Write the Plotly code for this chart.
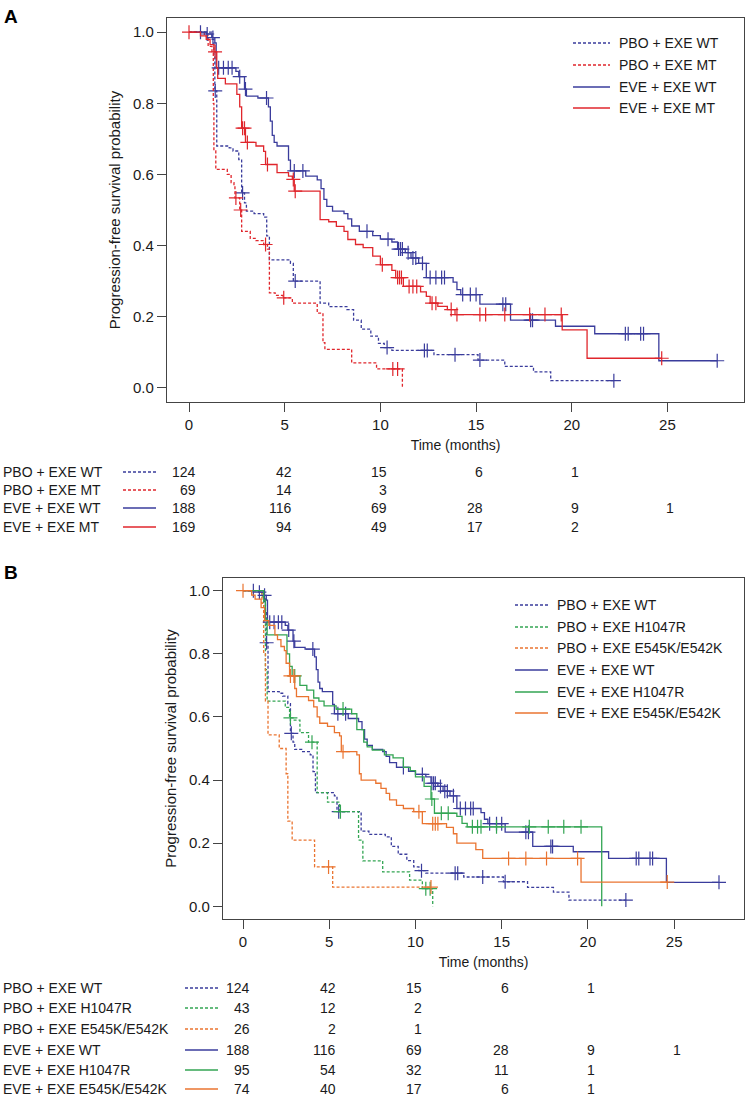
import numpy as np
import plotly.graph_objects as go

W, H = 747, 1099

# ---------------- data (months, survival) ----------------
# Panel A / shared
pbo_wt_t = [1.2, 1.3, 1.35, 1.45, 2.1, 2.3, 2.6, 2.75, 2.9, 3.0, 3.4, 3.9, 4.06, 4.2, 5.3, 5.45, 6.85, 7.3, 8.25, 8.6, 9.0, 9.5, 9.9, 10.2, 10.6, 12.8, 15.1, 16.5, 18.0, 18.9]
pbo_wt_s = [0.98, 0.93, 0.835, 0.68, 0.675, 0.666, 0.642, 0.548, 0.52, 0.497, 0.49, 0.48, 0.427, 0.36, 0.35, 0.30, 0.238, 0.228, 0.22, 0.19, 0.165, 0.145, 0.125, 0.113, 0.105, 0.093, 0.078, 0.06, 0.045, 0.02]
pbo_wt_c = [1.37, 2.8, 5.55, 10.35, 12.3, 12.45, 13.9, 15.2, 22.2]

pbo_mt_t = [0.8, 1.0, 1.2, 1.27, 1.3, 1.4, 2.0, 2.2, 2.35, 2.4, 2.65, 2.75, 3.2, 3.5, 3.9, 4.1, 4.2, 4.5, 4.9, 5.4, 6.7, 7.0, 7.1, 8.5, 9.8, 11.15]
pbo_mt_s = [0.99, 0.96, 0.94, 0.8, 0.666, 0.614, 0.60, 0.577, 0.567, 0.534, 0.50, 0.44, 0.42, 0.414, 0.403, 0.39, 0.267, 0.26, 0.253, 0.238, 0.21, 0.127, 0.108, 0.07, 0.053, 0.0]
pbo_mt_c = [2.45, 2.7, 4.0, 4.95, 10.65, 10.9]

eve_wt_t = [0.9, 1.2, 1.35, 1.42, 2.45, 2.6, 2.9, 3.0, 3.6, 4.15, 4.25, 4.35, 4.45, 4.6, 5.2, 5.3, 6.1, 6.7, 6.9, 7.05, 7.2, 7.5, 8.1, 8.3, 8.5, 8.9, 9.6, 10.0, 10.6, 10.9, 11.3, 11.6, 12.0, 12.4, 13.8, 14.0, 14.2, 15.2, 16.8, 19.15, 21.2, 24.55]
eve_wt_s = [0.995, 0.985, 0.97, 0.90, 0.89, 0.875, 0.84, 0.82, 0.815, 0.79, 0.75, 0.71, 0.69, 0.68, 0.64, 0.61, 0.595, 0.585, 0.56, 0.53, 0.51, 0.497, 0.49, 0.475, 0.455, 0.44, 0.428, 0.418, 0.41, 0.39, 0.38, 0.365, 0.35, 0.31, 0.297, 0.276, 0.262, 0.235, 0.19, 0.173, 0.152, 0.076]
eve_wt_c = [0.6, 0.95, 1.25, 1.55, 1.8, 2.05, 2.25, 2.65, 2.95, 4.05, 5.5, 5.95, 9.3, 10.4, 10.95, 11.05, 11.15, 11.45, 11.7, 11.85, 12.2, 12.6, 12.9, 13.2, 13.35, 14.3, 14.7, 15.0, 16.4, 16.55, 17.85, 17.95, 22.8, 22.95, 23.6, 23.75, 27.6]

eve_mt_t = [0.6, 0.9, 1.1, 1.3, 1.45, 1.5, 1.9, 2.5, 2.65, 2.75, 2.95, 3.5, 3.9, 4.0, 4.6, 5.2, 5.4, 5.5, 6.85, 7.3, 7.7, 8.1, 8.3, 8.7, 9.1, 9.6, 10.0, 10.6, 10.8, 11.2, 12.1, 12.4, 12.6, 13.0, 13.5, 13.9, 19.5, 20.8]
eve_mt_s = [0.99, 0.98, 0.965, 0.945, 0.90, 0.87, 0.855, 0.825, 0.79, 0.73, 0.69, 0.68, 0.665, 0.628, 0.605, 0.595, 0.586, 0.553, 0.473, 0.467, 0.454, 0.44, 0.417, 0.403, 0.394, 0.37, 0.346, 0.33, 0.31, 0.285, 0.27, 0.257, 0.238, 0.229, 0.22, 0.206, 0.163, 0.083]
eve_mt_c = [0.0, 1.36, 2.8, 2.9, 3.05, 4.1, 5.45, 5.55, 10.1, 10.9, 11.0, 11.1, 11.5, 11.7, 11.9, 12.7, 12.9, 13.7, 14.0, 15.2, 15.5, 16.5, 17.8, 18.6, 19.45, 24.7]

# Panel B subgroups
pbo_h_t = [1.1, 1.2, 1.3, 1.4, 2.45, 2.7, 2.9, 3.3, 3.8, 4.3, 4.9, 5.6, 6.7, 6.95, 8.1, 9.66, 10.4, 11.0]
pbo_h_s = [0.98, 0.90, 0.75, 0.65, 0.63, 0.597, 0.59, 0.55, 0.52, 0.36, 0.33, 0.30, 0.21, 0.144, 0.109, 0.083, 0.056, 0.0]
pbo_h_c = [2.75, 4.0, 5.65, 10.6, 10.85]

pbo_e_t = [1.1, 1.2, 1.3, 1.45, 2.1, 2.5, 2.6, 2.85, 4.15, 5.2]
pbo_e_s = [0.96, 0.8, 0.65, 0.543, 0.50, 0.42, 0.27, 0.21, 0.125, 0.061]
pbo_e_c = [4.96, 10.9]

eve_h_t = [1.2, 1.3, 1.4, 2.55, 2.7, 2.85, 3.3, 3.7, 4.1, 4.4, 4.7, 5.4, 6.3, 6.6, 7.0, 7.2, 7.5, 8.2, 8.7, 9.3, 9.7, 10.0, 10.5, 10.9, 11.1, 12.4, 12.7, 13.0, 20.8]
eve_h_s = [0.97, 0.91, 0.86, 0.80, 0.76, 0.73, 0.70, 0.685, 0.66, 0.65, 0.635, 0.625, 0.61, 0.56, 0.52, 0.505, 0.495, 0.48, 0.47, 0.44, 0.43, 0.41, 0.38, 0.34, 0.295, 0.285, 0.263, 0.252, 0.0]
eve_h_c = [3.0, 5.8, 10.95, 11.5, 11.9, 13.3, 13.6, 13.8, 14.7, 16.6, 17.7, 18.6, 19.6]

eve_e_t = [0.5, 0.7, 1.05, 1.25, 1.5, 1.85, 2.0, 2.2, 2.4, 2.5, 2.7, 3.0, 3.1, 3.8, 4.1, 4.3, 4.45, 4.9, 5.3, 5.6, 5.7, 6.6, 6.75, 6.85, 7.7, 8.0, 8.3, 8.5, 8.9, 9.3, 9.9, 10.4, 11.8, 12.2, 12.4, 13.5, 13.9, 19.6]
eve_e_s = [0.986, 0.973, 0.946, 0.905, 0.89, 0.86, 0.845, 0.823, 0.81, 0.77, 0.73, 0.69, 0.664, 0.652, 0.632, 0.60, 0.58, 0.57, 0.55, 0.54, 0.49, 0.48, 0.42, 0.40, 0.39, 0.374, 0.358, 0.337, 0.32, 0.31, 0.30, 0.262, 0.25, 0.23, 0.20, 0.18, 0.152, 0.077]
eve_e_c = [0.0, 2.75, 2.95, 5.8, 10.2, 11.0, 11.15, 11.3, 15.4, 16.4, 17.6, 19.4, 24.6]

# Risk tables
risk_times = [0, 5, 10, 15, 20, 25]
risk_a_labels = ["PBO + EXE WT", "PBO + EXE MT", "EVE + EXE WT", "EVE + EXE MT"]
risk_a_values = [[124, 42, 15, 6, 1], [69, 14, 3], [188, 116, 69, 28, 9, 1], [169, 94, 49, 17, 2]]
risk_b_labels = ["PBO + EXE WT", "PBO + EXE H1047R", "PBO + EXE E545K/E542K",
                 "EVE + EXE WT", "EVE + EXE H1047R", "EVE + EXE E545K/E542K"]
risk_b_values = [[124, 42, 15, 6, 1], [43, 12, 2], [26, 2, 1],
                 [188, 116, 69, 28, 9, 1], [95, 54, 32, 11, 1], [74, 40, 17, 6, 1]]

x_ticks = [0, 5, 10, 15, 20, 25]
y_ticks = [0.0, 0.2, 0.4, 0.6, 0.8, 1.0]

# ---------------- style ----------------
BLUE = "#3A3C9C"
RED = "#E0262C"
GREEN = "#33A553"
ORANGE = "#EA7430"
DASH = "3px,2px"
FONT = "Liberation Sans, Arial, Helvetica, sans-serif"
TXT = "#1a1a1a"
AX = "#444444"


def px(xp):
    return xp / W


def py(yp):
    return 1 - yp / H


def step_xy(t, s, c):
    t_end = max([t[-1]] + list(c))
    return [0.0] + list(t) + [t_end], [1.0] + list(s) + [s[-1]]


def surv_at(t, s, c):
    t = np.asarray(t)
    s = np.asarray(s)
    idx = np.searchsorted(t, np.asarray(c), side="right") - 1
    return np.where(idx < 0, 1.0, s[np.clip(idx, 0, None)])


fig = go.Figure()


def add_curve(t, s, c, color, dash, xa, ya, name):
    xs, ys = step_xy(t, s, c)
    fig.add_trace(go.Scatter(x=xs, y=ys, mode="lines", line_shape="hv",
                             line=dict(color=color, width=1.3, dash=dash),
                             xaxis=xa, yaxis=ya, name=name, showlegend=False,
                             hoverinfo="skip"))
    fig.add_trace(go.Scatter(x=c, y=surv_at(t, s, c), mode="markers",
                             marker=dict(symbol="cross-thin", size=10, color=color,
                                         line=dict(color=color, width=1.2)),
                             xaxis=xa, yaxis=ya, showlegend=False, hoverinfo="skip"))


# Panel A
add_curve(pbo_wt_t, pbo_wt_s, pbo_wt_c, BLUE, DASH, "x", "y", "PBO + EXE WT")
add_curve(pbo_mt_t, pbo_mt_s, pbo_mt_c, RED, DASH, "x", "y", "PBO + EXE MT")
add_curve(eve_wt_t, eve_wt_s, eve_wt_c, BLUE, "solid", "x", "y", "EVE + EXE WT")
add_curve(eve_mt_t, eve_mt_s, eve_mt_c, RED, "solid", "x", "y", "EVE + EXE MT")

# Panel B
add_curve(pbo_wt_t, pbo_wt_s, pbo_wt_c, BLUE, DASH, "x2", "y2", "PBO + EXE WT")
add_curve(pbo_h_t, pbo_h_s, pbo_h_c, GREEN, DASH, "x2", "y2", "PBO + EXE H1047R")
add_curve(pbo_e_t, pbo_e_s, pbo_e_c, ORANGE, DASH, "x2", "y2", "PBO + EXE E545K/E542K")
add_curve(eve_wt_t, eve_wt_s, eve_wt_c, BLUE, "solid", "x2", "y2", "EVE + EXE WT")
add_curve(eve_h_t, eve_h_s, eve_h_c, GREEN, "solid", "x2", "y2", "EVE + EXE H1047R")
add_curve(eve_e_t, eve_e_s, eve_e_c, ORANGE, "solid", "x2", "y2", "EVE + EXE E545K/E542K")

axis_common = dict(showline=True, mirror=True, linecolor=AX, linewidth=1.2,
                   ticks="outside", ticklen=9, tickwidth=1.2, tickcolor=AX,
                   showgrid=False, zeroline=False, automargin=False,
                   tickfont=dict(family=FONT, size=15, color=TXT))

ylab = "Progression-free survival probability"
fig.update_layout(
    width=W, height=H, margin=dict(l=0, r=0, t=0, b=0),
    paper_bgcolor="white", plot_bgcolor="white", showlegend=False,
    font=dict(family=FONT, color=TXT),
    xaxis=dict(domain=[px(167), px(744)], range=[-1.15, 29.0], anchor="y",
               tickvals=x_ticks,
               title=dict(text="Time (months)", standoff=8, font=dict(family=FONT, size=14, color=TXT)),
               **axis_common),
    yaxis=dict(domain=[py(402), py(18)], range=[-0.04, 1.04], anchor="x",
               tickvals=y_ticks, ticktext=[f"{v:.1f}" for v in y_ticks],
               title=dict(text=ylab, standoff=8, font=dict(family=FONT, size=15, color=TXT)),
               **axis_common),
    xaxis2=dict(domain=[px(223), px(744)], range=[-1.16, 29.05], anchor="y2",
                tickvals=x_ticks,
                title=dict(text="Time (months)", standoff=8, font=dict(family=FONT, size=14, color=TXT)),
                **axis_common),
    yaxis2=dict(domain=[py(919), py(578)], range=[-0.04, 1.04], anchor="x2",
                tickvals=y_ticks, ticktext=[f"{v:.1f}" for v in y_ticks],
                title=dict(text=ylab, standoff=8, font=dict(family=FONT, size=15, color=TXT)),
                **axis_common),
)

shapes = []
annotations = []

# Panel labels
annotations.append(dict(text="<b>A</b>", x=px(2), y=py(16), xref="paper", yref="paper",
                        xanchor="left", yanchor="middle", showarrow=False,
                        font=dict(family=FONT, size=19, color="black")))
annotations.append(dict(text="<b>B</b>", x=px(2), y=py(572), xref="paper", yref="paper",
                        xanchor="left", yanchor="middle", showarrow=False,
                        font=dict(family=FONT, size=19, color="black")))


def legend_block(labels, colors, dashes, x0, x1, xt, ys):
    for lab, col, d, yy in zip(labels, colors, dashes, ys):
        shapes.append(dict(type="line", xref="paper", yref="paper",
                           x0=px(x0), x1=px(x1), y0=py(yy), y1=py(yy),
                           line=dict(color=col, width=1.3, dash=d)))
        annotations.append(dict(text=lab, x=px(xt), y=py(yy), xref="paper", yref="paper",
                                xanchor="left", yanchor="middle", showarrow=False,
                                font=dict(family=FONT, size=14, color=TXT)))


a_colors = [BLUE, RED, BLUE, RED]
a_dashes = [DASH, DASH, "solid", "solid"]
b_colors = [BLUE, GREEN, ORANGE, BLUE, GREEN, ORANGE]
b_dashes = [DASH, DASH, DASH, "solid", "solid", "solid"]

# in-plot legends
legend_block(risk_a_labels, a_colors, a_dashes, 573, 610, 617, [43, 65, 87, 108])
legend_block(risk_b_labels, b_colors, b_dashes, 515, 548, 555, [605, 627, 648, 670, 692, 713])


def risk_block(labels, values, colors, dashes, x0, x1, ys, xref):
    for lab, vals, col, d, yy in zip(labels, values, colors, dashes, ys):
        annotations.append(dict(text=lab, x=px(1), y=py(yy), xref="paper", yref="paper",
                                xanchor="left", yanchor="middle", showarrow=False,
                                font=dict(family=FONT, size=14, color=TXT)))
        shapes.append(dict(type="line", xref="paper", yref="paper",
                           x0=px(x0), x1=px(x1), y0=py(yy), y1=py(yy),
                           line=dict(color=col, width=1.3, dash=d)))
        for tt, v in zip(risk_times, vals):
            annotations.append(dict(text=str(v), x=tt, y=py(yy), xref=xref, yref="paper",
                                    xanchor="right", yanchor="middle", xshift=9, showarrow=False,
                                    font=dict(family=FONT, size=14, color=TXT)))


risk_block(risk_a_labels, risk_a_values, a_colors, a_dashes, 123, 156, [472, 490, 508, 527], "x")
risk_block(risk_b_labels, risk_b_values, b_colors, b_dashes, 185, 218,
           [988, 1008, 1029, 1050, 1070, 1089], "x2")

fig.update_layout(shapes=shapes, annotations=annotations)
# remove the default 8px page margin so the figure sits at the window origin
fig.write_html("out.html",
               config={"displayModeBar": False},
               post_script="document.body.style.margin='0';document.body.style.overflow='hidden';")
